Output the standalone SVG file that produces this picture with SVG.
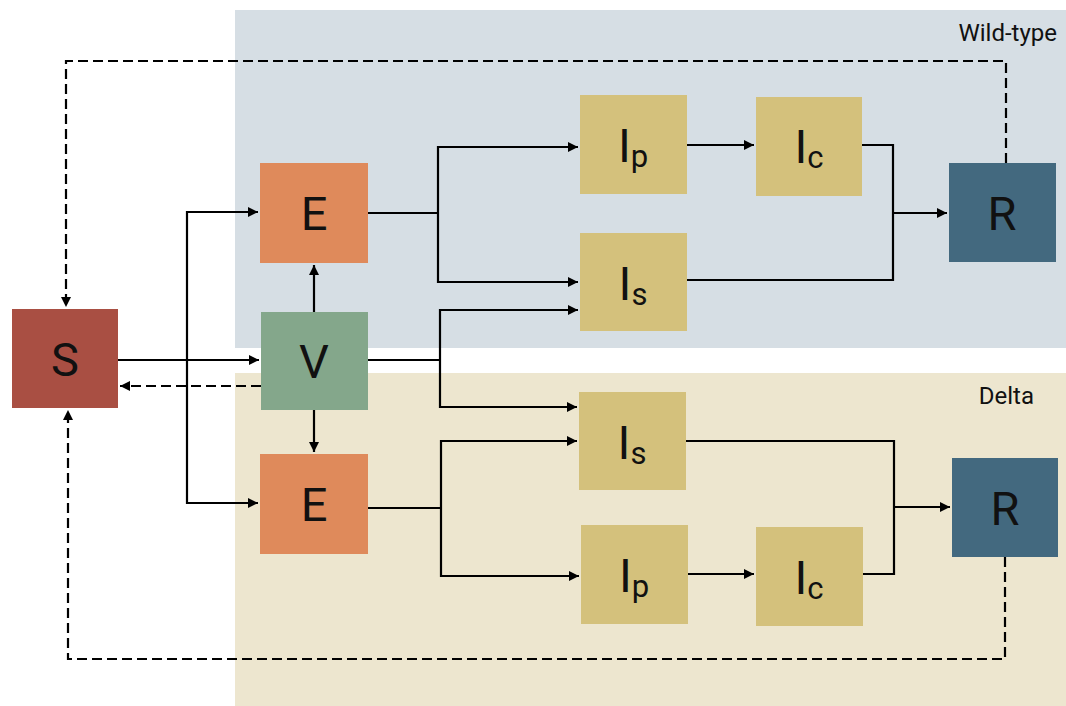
<svg xmlns="http://www.w3.org/2000/svg" width="1066" height="706" viewBox="0 0 1066 706">
<defs>
<marker id="ah" markerUnits="userSpaceOnUse" markerWidth="11" markerHeight="11" refX="10" refY="5.5" orient="auto"><path d="M0,0.5 L10,5.5 L0,10.5 z" fill="#000"/></marker>
<style>
.ln{fill:none;stroke:#000;stroke-width:2.2}
.ar{marker-end:url(#ah)}
.ds{stroke-dasharray:10 5}
.lb{font-family:Roboto,"Noto Sans",sans-serif;font-size:47px;fill:#111;text-anchor:middle}
.sb{font-size:31px}
.rg{font-family:Roboto,"Noto Sans",sans-serif;font-size:24px;fill:#111;text-anchor:end}
</style>
</defs>
<rect x="0" y="0" width="1066" height="706" fill="#fff"/>
<g id="wildtype-region">
<rect x="235" y="10" width="831" height="338" fill="#d6dee4"/>
<text class="rg" x="1057" y="41">Wild-type</text>
</g>
<g id="delta-region">
<rect x="235" y="373" width="831" height="333" fill="#ede6cf"/>
<text class="rg" x="1034" y="404">Delta</text>
</g>
<g id="connectors">
<path class="ln ar" d="M118,360 H259"/>
<path class="ln ar ds" d="M261,386 H120"/>
<path class="ln ar" d="M187,360 V212 H258"/>
<path class="ln ar" d="M187,360 V503 H258"/>
<path class="ln ar" d="M314,312 V265"/>
<path class="ln ar" d="M314,410 V452"/>
<path class="ln" d="M368,213 H438"/>
<path class="ln ar" d="M438,213 V147 H578"/>
<path class="ln ar" d="M438,213 V282 H578"/>
<path class="ln" d="M368,360 H440"/>
<path class="ln ar" d="M440,360 V310 H578"/>
<path class="ln ar" d="M440,360 V407 H577"/>
<path class="ln" d="M368,508 H441"/>
<path class="ln ar" d="M441,508 V441 H577"/>
<path class="ln ar" d="M441,508 V576 H579"/>
<path class="ln ar" d="M687,145 H754"/>
<path class="ln" d="M862,145 H893 V280 H687"/>
<path class="ln ar" d="M893,213 H947"/>
<path class="ln ar" d="M688,574 H754"/>
<path class="ln" d="M863,574 H894 V441 H686"/>
<path class="ln ar" d="M894,507 H950"/>
<path class="ln ar ds" d="M1006,163 V61 H66 V307"/>
<path class="ln ar ds" d="M1005,557 V659 H68 V410"/>
</g>
<g id="S"><rect x="12" y="309" width="106" height="99" fill="#a94f43"/><text class="lb" x="65" y="376">S</text></g>
<g id="V"><rect x="261" y="312" width="107" height="98" fill="#84a78b"/><text class="lb" x="314" y="378">V</text></g>
<g id="E-wild"><rect x="260" y="163" width="108" height="100" fill="#df8a5b"/><text class="lb" x="314" y="230">E</text></g>
<g id="E-delta"><rect x="260" y="454" width="108" height="100" fill="#df8a5b"/><text class="lb" x="314" y="521">E</text></g>
<g id="Ip-wild"><rect x="580" y="95" width="107" height="99" fill="#d4c17c"/><text class="lb" x="633" y="162">I<tspan class="sb" dy="5">p</tspan></text></g>
<g id="Is-wild"><rect x="580" y="233" width="107" height="98" fill="#d4c17c"/><text class="lb" x="633" y="300">I<tspan class="sb" dy="5">s</tspan></text></g>
<g id="Ic-wild"><rect x="756" y="97" width="106" height="99" fill="#d4c17c"/><text class="lb" x="809" y="163">I<tspan class="sb" dy="5">c</tspan></text></g>
<g id="R-wild"><rect x="949" y="163" width="107" height="99" fill="#43697f"/><text class="lb" x="1002" y="230">R</text></g>
<g id="Is-delta"><rect x="579" y="392" width="107" height="98" fill="#d4c17c"/><text class="lb" x="632" y="459">I<tspan class="sb" dy="5">s</tspan></text></g>
<g id="Ip-delta"><rect x="581" y="525" width="107" height="99" fill="#d4c17c"/><text class="lb" x="634" y="592">I<tspan class="sb" dy="5">p</tspan></text></g>
<g id="Ic-delta"><rect x="756" y="527" width="107" height="99" fill="#d4c17c"/><text class="lb" x="809" y="594">I<tspan class="sb" dy="5">c</tspan></text></g>
<g id="R-delta"><rect x="952" y="458" width="106" height="99" fill="#43697f"/><text class="lb" x="1005" y="525">R</text></g>
</svg>
